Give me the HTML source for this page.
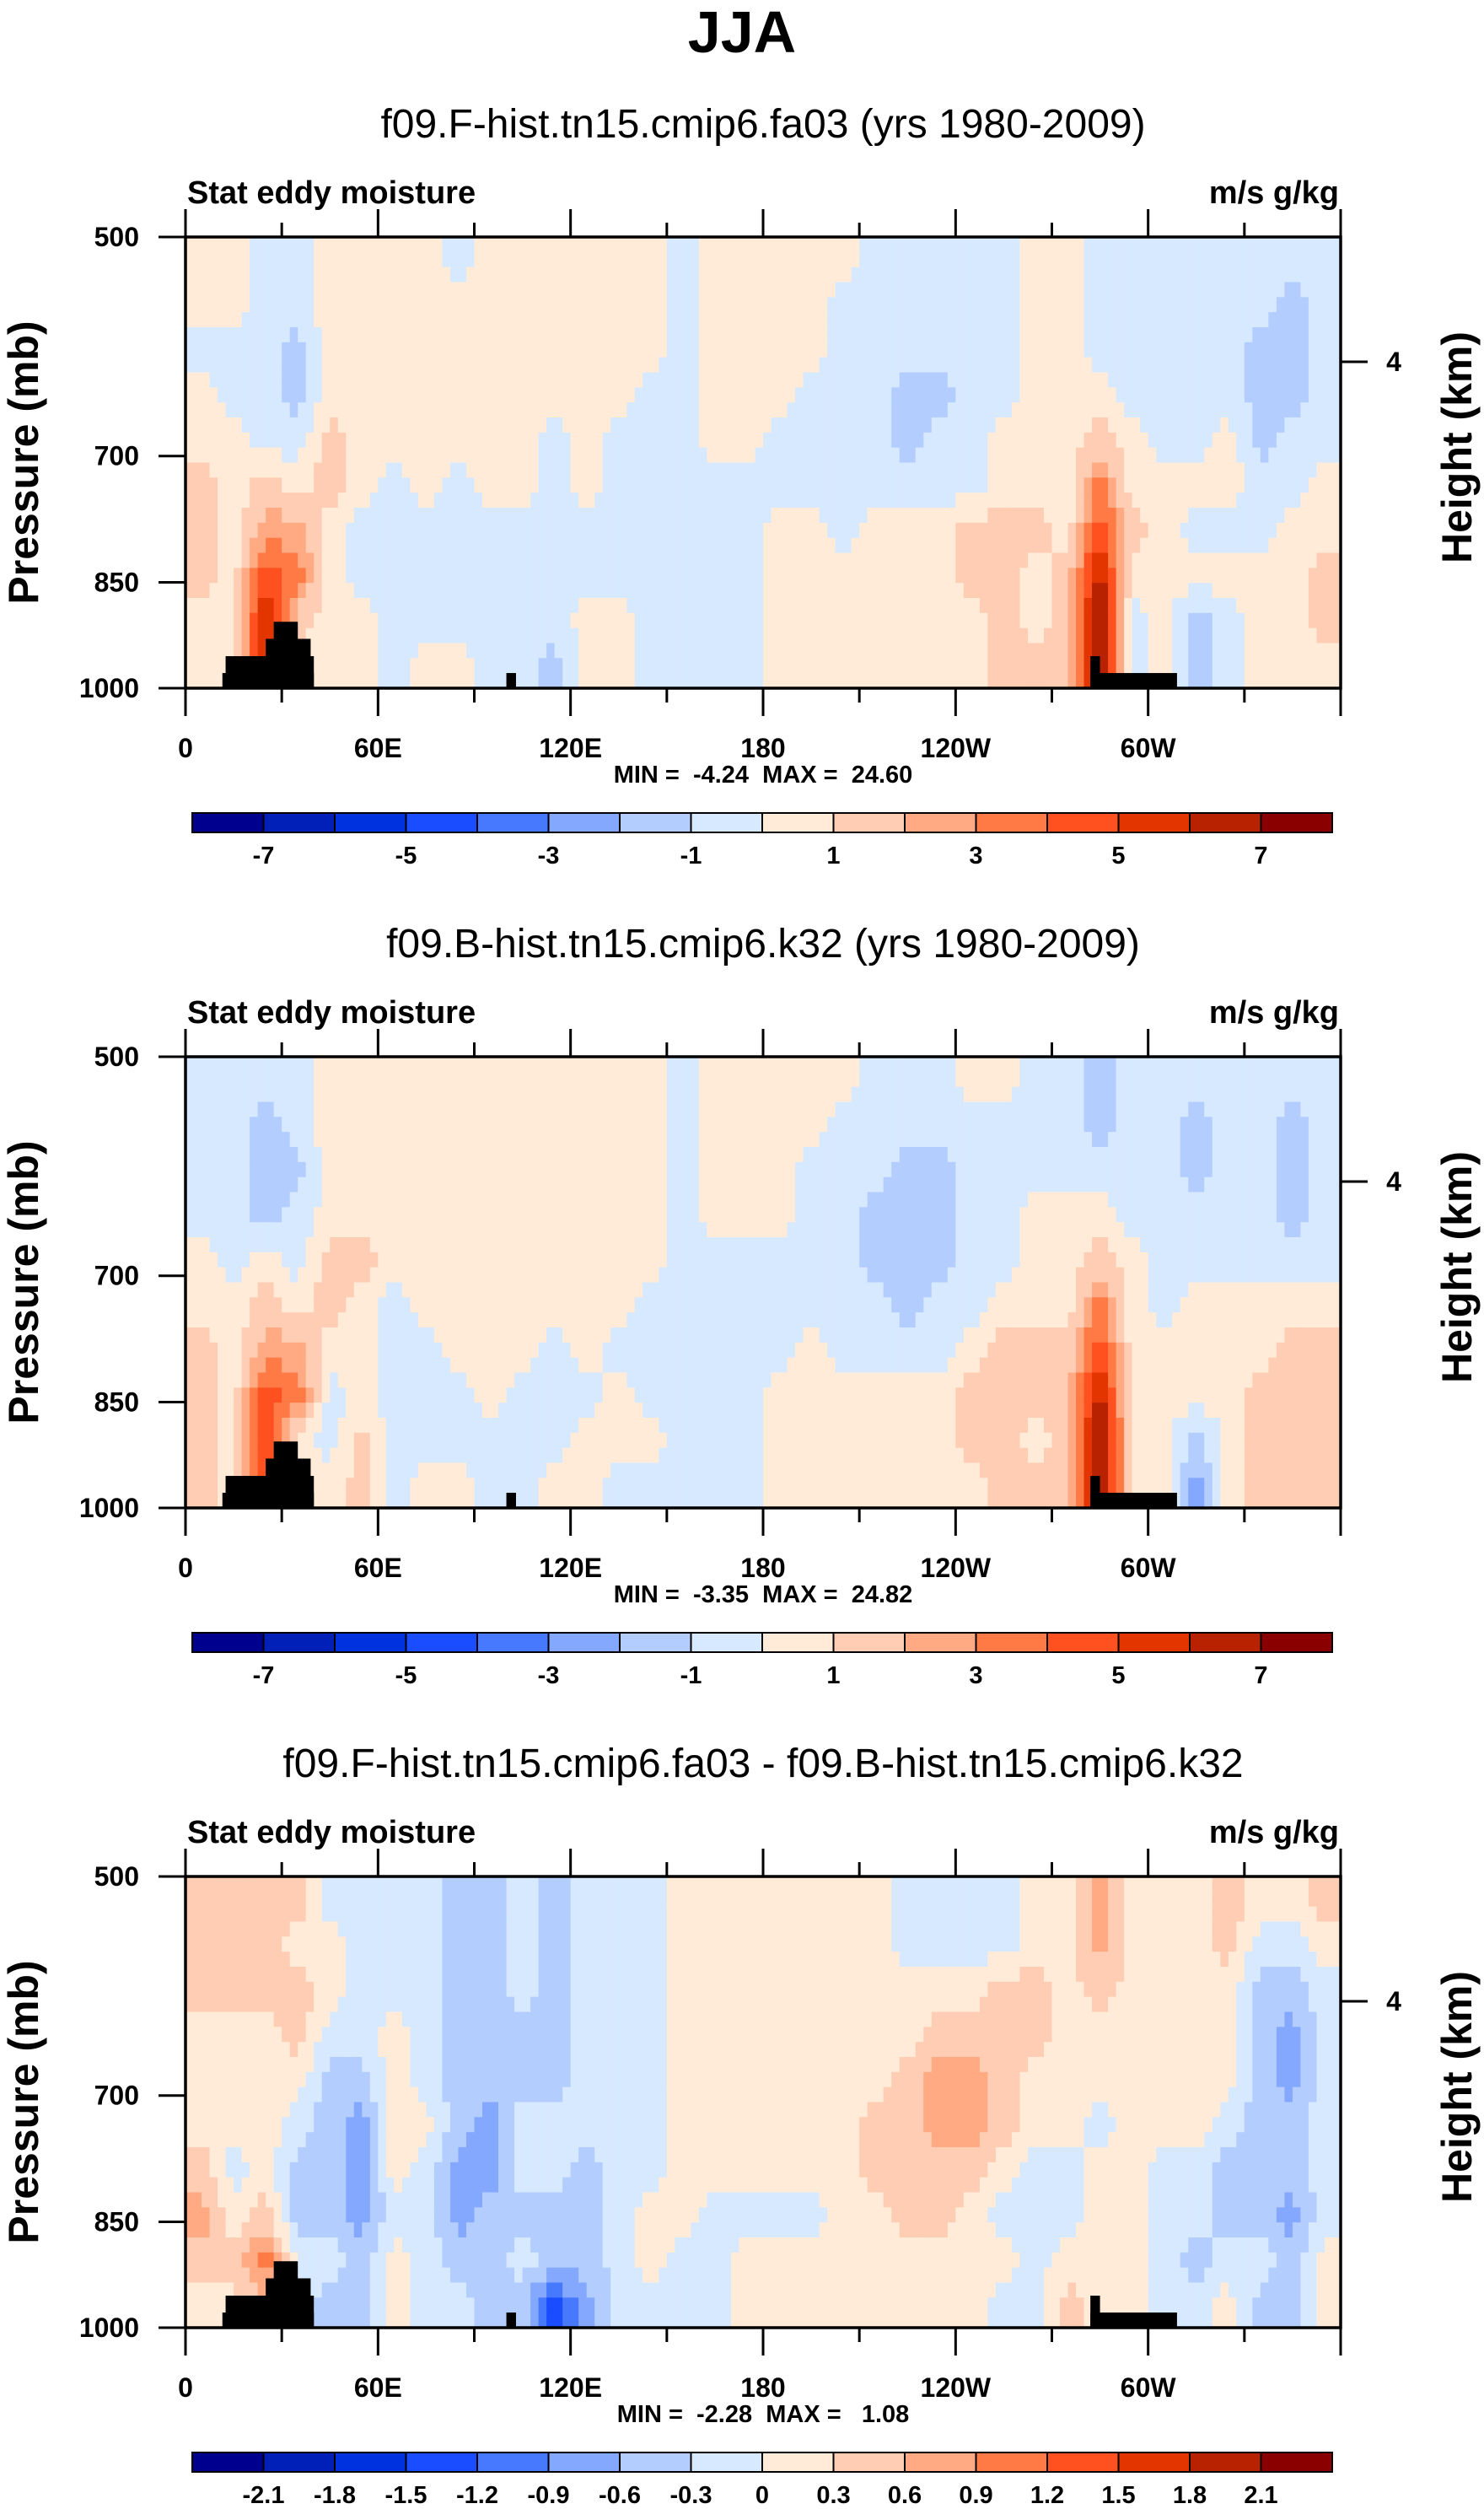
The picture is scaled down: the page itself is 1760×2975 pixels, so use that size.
<!DOCTYPE html>
<html><head><meta charset="utf-8">
<style>
html,body{margin:0;padding:0;background:#fff;}
svg{display:block;font-family:"Liberation Sans",Arial,sans-serif;}
.pre{white-space:pre;}
</style></head>
<body>
<svg id="root" width="1760" height="2975" viewBox="0 0 1760 2975" xmlns="http://www.w3.org/2000/svg">
<text x="880" y="62" text-anchor="middle" font-size="70" font-weight="bold">JJA</text>
</svg>
<script>
// ---- data ----
const lonCenters = [5,15,25,35,45,55,65,75,85,95,105,115,125,135,145,155,165,175,185,195,205,215,225,235,245,255,265,275,285,295,305,315,325,335,345,355];
const rowCount = 10;
const xTickLabels = ["0","60E","120E","180","120W","60W"];
const xTickLons = [0,60,120,180,240,300];
const yTickLabels = ["500","700","850","1000"];
const yTickPressures = [500,700,850,1000];
const levels12 = [-7,-6,-5,-4,-3,-2,-1,0,1,2,3,4,5,6,7];
const levels12Labels = ["-7","-5","-3","-1","1","3","5","7"];
const levels3 = [-2.1,-1.8,-1.5,-1.2,-0.9,-0.6,-0.3,0,0.3,0.6,0.9,1.2,1.5,1.8,2.1];
const levels3Labels = ["-2.1","-1.8","-1.5","-1.2","-0.9","-0.6","-0.3","0","0.3","0.6","0.9","1.2","1.5","1.8","2.1"];
const colors = ["#00008f","#0020b8","#0033e0","#1a4dff","#4779ff","#85a8ff","#b3cdff","#d7e9ff","#ffebd8","#ffcdb3","#ffaa82","#ff7a45","#ff5020","#e33500","#b82200","#8a0000"];
const terrain = [[11.5,40,977],[12.5,40,952],[25,39,927],[27.5,35,903],[100,103,977],[282,309,977],[282,285,952]];
// columns (each row r0..r9 top->bottom)
const field1 = [
[0.5,0.5,-0.5,0.5,0.5,1.5,1.5,1.5,0.5,0.5],
[0.5,0.5,-0.5,-0.5,0.5,0.5,0.5,0.5,0.5,0.5],
[-0.5,-0.5,-0.5,-0.5,-0.5,1.5,2.5,4.5,6.5,6.5],
[-0.5,-0.5,-1.5,-1.5,-0.5,0.5,2.5,3.5,1.5,0.5],
[0.5,0.5,0.5,0.5,1.5,1.5,0.5,0.5,0.5,0.5],
[0.5,0.5,0.5,0.5,0.5,0.5,-0.5,-0.5,0.5,0.5],
[0.5,0.5,0.5,0.5,0.5,-0.5,-0.5,-0.5,-0.5,-0.5],
[0.5,0.5,0.5,0.5,0.5,0.5,-0.5,-0.5,-0.5,0.5],
[-0.5,0.5,0.5,0.5,0.5,-0.5,-0.5,-0.5,-0.5,0.5],
[0.5,0.5,0.5,0.5,0.5,0.5,-0.5,-0.5,-0.5,-0.5],
[0.5,0.5,0.5,0.5,0.5,0.5,-0.5,-0.5,-0.5,-0.5],
[0.5,0.5,0.5,0.5,-0.5,-0.5,-0.5,-0.5,-0.5,-1.5],
[0.5,0.5,0.5,0.5,0.5,0.5,-0.5,-0.5,0.5,0.5],
[0.5,0.5,0.5,0.5,-0.5,-0.5,-0.5,-0.5,0.5,0.5],
[0.5,0.5,0.5,-0.5,-0.5,-0.5,-0.5,-0.5,-0.5,-0.5],
[-0.5,-0.5,-0.5,-0.5,-0.5,-0.5,-0.5,-0.5,-0.5,-0.5],
[0.5,0.5,0.5,0.5,0.5,-0.5,-0.5,-0.5,-0.5,-0.5],
[0.5,0.5,0.5,0.5,0.5,-0.5,-0.5,-0.5,-0.5,-0.5],
[0.5,0.5,0.5,0.5,-0.5,-0.5,0.5,0.5,0.5,0.5],
[0.5,0.5,0.5,-0.5,-0.5,-0.5,0.5,0.5,0.5,0.5],
[0.5,-0.5,-0.5,-0.5,-0.5,-0.5,-0.5,0.5,0.5,0.5],
[-0.5,-0.5,-0.5,-0.5,-0.5,-0.5,0.5,0.5,0.5,0.5],
[-0.5,-0.5,-0.5,-1.5,-1.5,-0.5,0.5,0.5,0.5,0.5],
[-0.5,-0.5,-0.5,-1.5,-0.5,-0.5,0.5,0.5,0.5,0.5],
[-0.5,-0.5,-0.5,-0.5,-0.5,-0.5,1.5,1.5,0.5,0.5],
[-0.5,-0.5,-0.5,-0.5,0.5,0.5,1.5,1.5,1.5,1.5],
[0.5,0.5,0.5,0.5,0.5,0.5,1.5,0.5,0.5,1.5],
[0.5,0.5,0.5,0.5,0.5,0.5,0.5,1.5,1.5,1.5],
[-0.5,-0.5,-0.5,0.5,1.5,3.5,4.5,6.5,7.5,7.5],
[-0.5,-0.5,-0.5,-0.5,0.5,0.5,1.5,0.5,-0.5,-0.5],
[-0.5,-0.5,-0.5,-0.5,-0.5,0.5,0.5,0.5,0.5,0.5],
[-0.5,-0.5,-0.5,-0.5,-0.5,0.5,-0.5,0.5,-1.5,-1.5],
[-0.5,-0.5,-0.5,-0.5,0.5,0.5,-0.5,0.5,-0.5,-0.5],
[-0.5,-0.5,-1.5,-1.5,-1.5,-0.5,-0.5,0.5,0.5,0.5],
[-0.5,-1.5,-1.5,-1.5,-0.5,-0.5,0.5,0.5,0.5,0.5],
[-0.5,-0.5,-0.5,-0.5,-0.5,0.5,0.5,1.5,1.5,0.5]
];
const field2 = [
[-0.5,-0.5,-0.5,-0.5,0.5,0.5,1.5,1.5,1.5,1.5],
[-0.5,-0.5,-0.5,-0.5,-0.5,0.5,0.5,0.5,0.5,0.5],
[-0.5,-1.5,-1.5,-1.5,0.5,1.5,2.5,4.5,5.5,5.5],
[-0.5,-0.5,-1.5,-0.5,-0.5,0.5,2.5,3.5,0.5,0.5],
[0.5,0.5,0.5,0.5,1.5,1.5,0.5,-0.5,-0.5,0.5],
[0.5,0.5,0.5,0.5,1.5,0.5,0.5,0.5,1.5,1.5],
[0.5,0.5,0.5,0.5,0.5,-0.5,-0.5,-0.5,-0.5,-0.5],
[0.5,0.5,0.5,0.5,0.5,0.5,-0.5,-0.5,-0.5,0.5],
[0.5,0.5,0.5,0.5,0.5,0.5,0.5,-0.5,-0.5,0.5],
[0.5,0.5,0.5,0.5,0.5,0.5,0.5,0.5,-0.5,-0.5],
[0.5,0.5,0.5,0.5,0.5,0.5,0.5,-0.5,-0.5,-0.5],
[0.5,0.5,0.5,0.5,0.5,0.5,-0.5,-0.5,-0.5,0.5],
[0.5,0.5,0.5,0.5,0.5,0.5,0.5,-0.5,0.5,0.5],
[0.5,0.5,0.5,0.5,0.5,0.5,-0.5,0.5,0.5,-0.5],
[0.5,0.5,0.5,0.5,0.5,-0.5,-0.5,-0.5,0.5,-0.5],
[-0.5,-0.5,-0.5,-0.5,-0.5,-0.5,-0.5,-0.5,-0.5,-0.5],
[0.5,0.5,0.5,0.5,-0.5,-0.5,-0.5,-0.5,-0.5,-0.5],
[0.5,0.5,0.5,0.5,-0.5,-0.5,-0.5,-0.5,-0.5,-0.5],
[0.5,0.5,0.5,0.5,-0.5,-0.5,-0.5,0.5,0.5,0.5],
[0.5,0.5,-0.5,-0.5,-0.5,-0.5,0.5,0.5,0.5,0.5],
[0.5,-0.5,-0.5,-0.5,-0.5,-0.5,-0.5,0.5,0.5,0.5],
[-0.5,-0.5,-0.5,-1.5,-1.5,-0.5,-0.5,0.5,0.5,0.5],
[-0.5,-0.5,-1.5,-1.5,-1.5,-1.5,-0.5,0.5,0.5,0.5],
[-0.5,-0.5,-1.5,-1.5,-1.5,-0.5,-0.5,0.5,0.5,0.5],
[0.5,-0.5,-0.5,-0.5,-0.5,-0.5,0.5,1.5,1.5,0.5],
[0.5,-0.5,-0.5,-0.5,-0.5,0.5,1.5,1.5,1.5,1.5],
[-0.5,-0.5,-0.5,0.5,0.5,0.5,1.5,1.5,0.5,1.5],
[-0.5,-0.5,-0.5,0.5,0.5,0.5,1.5,1.5,1.5,1.5],
[-1.5,-1.5,-0.5,0.5,1.5,3.5,4.5,6.5,7.5,7.5],
[-0.5,-0.5,-0.5,-0.5,0.5,0.5,0.5,0.5,0.5,0.5],
[-0.5,-0.5,-0.5,-0.5,-0.5,-0.5,0.5,0.5,0.5,0.5],
[-0.5,-1.5,-1.5,-0.5,-0.5,0.5,0.5,0.5,-1.5,-2.5],
[-0.5,-0.5,-0.5,-0.5,-0.5,0.5,0.5,0.5,0.5,0.5],
[-0.5,-0.5,-0.5,-0.5,-0.5,0.5,0.5,1.5,1.5,1.5],
[-0.5,-1.5,-1.5,-1.5,-0.5,0.5,1.5,1.5,1.5,1.5],
[-0.5,-0.5,-0.5,-0.5,-0.5,0.5,1.5,1.5,1.5,1.5]
];
const field3 = [
[0.45,0.45,0.45,0.15,0.15,0.15,0.45,0.75,0.45,0.15],
[0.45,0.45,0.45,0.15,0.15,0.15,-0.15,0.15,0.45,0.15],
[0.45,0.45,0.45,0.15,0.15,0.15,0.15,0.45,1.05,0.45],
[0.45,0.15,0.45,0.45,0.15,-0.15,-0.45,-0.45,-0.15,-0.15],
[-0.15,0.15,0.15,-0.15,-0.45,-0.45,-0.45,-0.45,-0.15,-0.45],
[-0.15,-0.15,-0.15,-0.15,-0.45,-0.75,-0.75,-0.75,-0.45,-0.45],
[-0.15,-0.15,-0.15,0.15,0.15,0.15,0.15,-0.15,0.15,0.15],
[-0.15,-0.15,-0.15,-0.15,-0.15,0.15,-0.15,-0.15,-0.15,-0.15],
[-0.45,-0.45,-0.45,-0.45,-0.45,-0.45,-0.75,-0.75,-0.45,-0.15],
[-0.45,-0.45,-0.45,-0.45,-0.45,-0.75,-0.75,-0.45,-0.45,-0.45],
[-0.15,-0.15,-0.15,-0.45,-0.45,-0.15,-0.15,-0.45,-0.15,-0.45],
[-0.45,-0.45,-0.45,-0.45,-0.45,-0.15,-0.15,-0.45,-0.45,-1.35],
[-0.15,-0.15,-0.15,-0.15,-0.15,-0.15,-0.45,-0.45,-0.45,-0.75],
[-0.15,-0.15,-0.15,-0.15,-0.15,-0.15,-0.15,-0.15,-0.15,-0.15],
[-0.15,-0.15,-0.15,-0.15,-0.15,-0.15,-0.15,0.15,0.15,-0.15],
[0.15,0.15,0.15,0.15,0.15,0.15,0.15,0.15,-0.15,-0.15],
[0.15,0.15,0.15,0.15,0.15,0.15,0.15,-0.15,-0.15,-0.15],
[0.15,0.15,0.15,0.15,0.15,0.15,0.15,-0.15,0.15,0.15],
[0.15,0.15,0.15,0.15,0.15,0.15,0.15,-0.15,0.15,0.15],
[0.15,0.15,0.15,0.15,0.15,0.15,0.15,-0.15,0.15,0.15],
[0.15,0.15,0.15,0.15,0.15,0.15,0.15,0.15,0.15,0.15],
[0.15,0.15,0.15,0.15,0.15,0.45,0.45,0.15,0.15,0.15],
[-0.15,-0.15,0.15,0.15,0.45,0.45,0.45,0.45,0.15,0.15],
[-0.15,-0.15,0.15,0.45,0.75,0.75,0.45,0.45,0.15,0.15],
[-0.15,-0.15,0.15,0.45,0.75,0.75,0.45,0.15,0.15,0.15],
[-0.15,-0.15,0.45,0.45,0.45,0.45,0.15,-0.15,0.15,-0.15],
[0.15,0.15,0.45,0.45,0.15,0.15,-0.15,-0.15,-0.15,-0.15],
[0.15,0.15,0.15,0.15,0.15,0.15,-0.15,-0.15,0.15,0.45],
[0.75,0.75,0.45,0.15,0.15,-0.15,0.15,0.15,0.15,0.15],
[0.15,0.15,0.15,0.15,0.15,0.15,0.15,0.15,0.15,0.15],
[0.15,0.15,0.15,0.15,0.15,0.15,-0.15,-0.15,-0.15,-0.15],
[0.15,0.15,0.15,0.15,0.15,0.15,-0.15,-0.15,-0.45,-0.15],
[0.45,0.45,0.15,0.15,0.15,-0.15,-0.45,-0.45,-0.15,0.15],
[0.15,-0.15,-0.45,-0.45,-0.45,-0.45,-0.45,-0.45,-0.15,-0.45],
[0.15,-0.15,-0.45,-0.75,-0.75,-0.45,-0.45,-0.75,-0.45,-0.45],
[0.45,0.15,-0.15,-0.15,-0.15,-0.15,-0.15,-0.15,0.15,0.15]
];
const panelTitles = ["f09.F-hist.tn15.cmip6.fa03 (yrs 1980-2009)","f09.B-hist.tn15.cmip6.k32 (yrs 1980-2009)","f09.F-hist.tn15.cmip6.fa03 - f09.B-hist.tn15.cmip6.k32"];
const minMaxText = ["MIN =  -4.24  MAX =  24.60","MIN =  -3.35  MAX =  24.82","MIN =  -2.28  MAX =   1.08"];

// ---- drawing ----
const NS = "http://www.w3.org/2000/svg";
const root = document.getElementById('root');
const X0 = 220, PW = 1370, PH = 535;
const panelTops = [281, 1253, 2225];
const SUBX = 4, SUBY = 3;
function mk(tag, attrs, parent){const e=document.createElementNS(NS,tag);for(const k in attrs)e.setAttribute(k,attrs[k]);(parent||root).appendChild(e);return e;}
function xs(lon){return X0 + lon/360*PW;}
function ysFactory(top){return p => top + Math.log(p/500)/Math.log(2)*PH;}
function colorFor(v, lv){let i=0;while(i<lv.length && v>=lv[i]) i++;return colors[i];}
// bilinear sample of a field at fractional column / row coordinates (cell-center based)
function sample(field, c, r){
  const nc = field.length, nr = field[0].length;
  c = Math.max(0, Math.min(nc-1, c)); r = Math.max(0, Math.min(nr-1, r));
  const c0 = Math.floor(c), r0 = Math.floor(r), c1 = Math.min(nc-1,c0+1), r1 = Math.min(nr-1,r0+1);
  const fc = c-c0, fr = r-r0;
  const a = field[c0][r0]*(1-fc)+field[c1][r0]*fc;
  const b = field[c0][r1]*(1-fc)+field[c1][r1]*fc;
  return a*(1-fr)+b*fr;
}

const fields = [field1, field2, field3];
const levelSets = [levels12, levels12, levels3];
const labelSets = [levels12Labels, levels12Labels, levels3Labels];

fields.forEach((field, pi) => {
  const top = panelTops[pi];
  const ys = ysFactory(top);
  const g = mk('g', {});
  
  

  const st = mk('text', {x:905, y:top-118, 'text-anchor':'middle', 'font-size':48}, g);
  st.textContent = panelTitles[pi];
  
  
  const lt = mk('text', {x:X0+2, y:top-40, 'font-size':38, 'font-weight':'bold'}, g);
  lt.textContent = 'Stat eddy moisture';
  
  
  const rt = mk('text', {x:X0+PW-2, y:top-40, 'font-size':38, 'font-weight':'bold', 'text-anchor':'end'}, g);
  rt.textContent = 'm/s g/kg';
  
  

  const cells = mk('g', {}, g);
  
  
  const dLon = lonCenters[1]-lonCenters[0];
  field.forEach((col, ci) => {
    const lon = lonCenters[ci];
    col.forEach((v, ri) => {
      for (let sx=0; sx<SUBX; sx++){
        for (let sy=0; sy<SUBY; sy++){
          const fx0 = sx/SUBX, fx1 = (sx+1)/SUBX, fy0 = sy/SUBY, fy1 = (sy+1)/SUBY;
          const cc = ci - 0.5 + (fx0+fx1)/2, rr = ri - 0.5 + (fy0+fy1)/2;
          const val = sample(field, cc, rr);
          const lonA = lon - dLon/2 + fx0*dLon, lonB = lon - dLon/2 + fx1*dLon;
          const pA = 500*Math.pow(2,(ri+fy0)/rowCount), pB = 500*Math.pow(2,(ri+fy1)/rowCount);
          const x = xs(lonA), y = ys(pA);
          const r = mk('rect', {x:x.toFixed(2), y:y.toFixed(2), width:(xs(lonB)-x+0.6).toFixed(2), height:(ys(pB)-y+0.6).toFixed(2), fill:colorFor(val, levelSets[pi])}, cells);
          
          
        }
      }
    });
  });
  terrain.forEach(t => {
    const r = mk('rect', {x:xs(t[0]), y:ys(t[2]), width:xs(t[1])-xs(t[0]), height:top+PH-ys(t[2]), fill:'#000'}, g);
    
    
  });
  const frame = mk('rect', {x:X0, y:top, width:PW, height:PH, fill:'none', stroke:'#000', 'stroke-width':3.5}, g);
  
  

  for (let lon=0; lon<=360; lon+=30){
    const major = lon%60===0, len = major?33:17, x=xs(lon);
    const t1 = mk('line', {x1:x, x2:x, y1:top+PH, y2:top+PH+len, stroke:'#000','stroke-width':3}, g);
    
    
    const t2 = mk('line', {x1:x, x2:x, y1:top, y2:top-len, stroke:'#000','stroke-width':3}, g);
    
    
  }
  xTickLabels.forEach((lab, i) => {
    const t = mk('text', {x:xs(xTickLons[i]), y:top+PH+82, 'text-anchor':'middle','font-size':32,'font-weight':'bold'}, g);
    t.textContent = lab;
    
    
  });
  yTickLabels.forEach((lab, i) => {
    const y = ys(yTickPressures[i]);
    const l = mk('line', {x1:X0-32, x2:X0, y1:y, y2:y, stroke:'#000','stroke-width':3}, g);
    
    
    const t = mk('text', {x:165, y:y+11, 'text-anchor':'end','font-size':32,'font-weight':'bold'}, g);
    t.textContent = lab;
    
    
  });
  const rtk = mk('line', {x1:X0+PW, x2:X0+PW+32, y1:top+148, y2:top+148, stroke:'#000','stroke-width':3}, g);
  
  
  const rtl = mk('text', {x:1653, y:top+159, 'text-anchor':'middle','font-size':32,'font-weight':'bold'}, g);
  rtl.textContent = '4';
  
  
  const ya = mk('text', {x:0, y:0, 'text-anchor':'middle','font-size':50,'font-weight':'bold', transform:`translate(45,${top+PH/2}) rotate(-90)`}, g);
  ya.textContent = 'Pressure (mb)';
  
  
  const ya2 = mk('text', {x:0, y:0, 'text-anchor':'middle','font-size':50,'font-weight':'bold', transform:`translate(1745,${top+PH/2-18}) rotate(-90)`}, g);
  ya2.textContent = 'Height (km)';
  
  
  const mm = mk('text', {x:905, y:top+647, 'text-anchor':'middle','font-size':29,'font-weight':'bold','class':'pre'}, g);
  mm.textContent = minMaxText[pi];
  
  

  const cb = mk('g', {}, g);
  
  
  const cx0 = 228, cw = 1352, cy = top+683, ch = 23, bw = cw/colors.length;
  colors.forEach((c, i) => {
    const r = mk('rect', {x:cx0+i*bw, y:cy, width:bw, height:ch, fill:c, stroke:'#000','stroke-width':2}, cb);
    
    
  });
  const lv = levelSets[pi], labs = labelSets[pi];
  labs.forEach(lab => {
    const idx = lv.findIndex(v => Math.abs(v - parseFloat(lab)) < 1e-6);
    const t = mk('text', {x:cx0+(idx+1)*bw, y:cy+ch+37, 'text-anchor':'middle','font-size':29,'font-weight':'bold'}, cb);
    t.textContent = lab;
    
    
  });
});
</script>
</body></html>
